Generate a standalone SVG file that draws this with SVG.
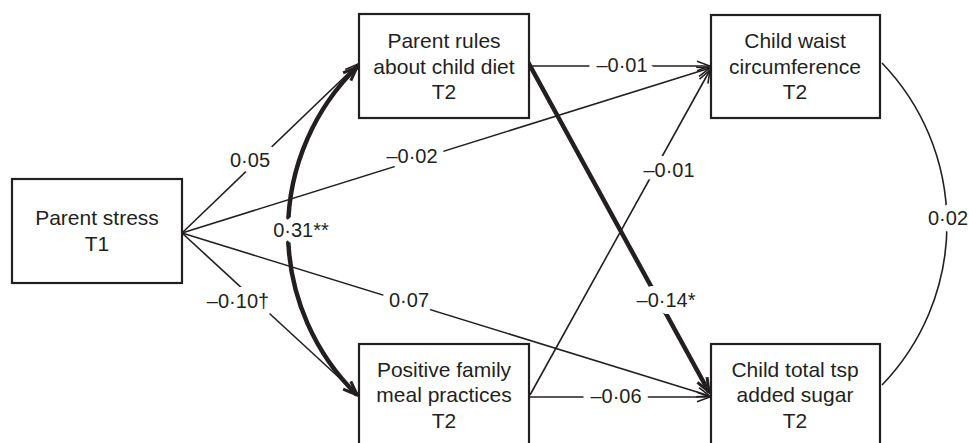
<svg xmlns="http://www.w3.org/2000/svg" width="969" height="443" viewBox="0 0 969 443">
<style>
.box{fill:#fff;stroke:#231f20;stroke-width:2.2}
.nt{font-family:"Liberation Sans",Arial,sans-serif;font-size:21px;fill:#231f20;text-anchor:middle}
.lb{font-family:"Liberation Sans",Arial,sans-serif;font-size:20px;fill:#231f20;text-anchor:middle;paint-order:stroke;stroke:#fff;stroke-width:14px;stroke-linejoin:round}
.thin{fill:none;stroke:#231f20;stroke-width:1.6}
.thick{fill:none;stroke:#231f20;stroke-width:4.5}
</style>
<defs>
<marker id="ah" markerUnits="userSpaceOnUse" viewBox="-16 -8 18 16" markerWidth="18" markerHeight="16" refX="0" refY="0" orient="auto-start-reverse">
<path d="M-13,-4.8 L0,0 L-13,4.8" fill="none" stroke="#231f20" stroke-width="1.6"/>
</marker>
<marker id="ahb" markerUnits="userSpaceOnUse" viewBox="-18 -9 20 18" markerWidth="20" markerHeight="18" refX="0" refY="0" orient="auto-start-reverse">
<path d="M-14,-5.5 L0,0 L-14,5.5" fill="none" stroke="#231f20" stroke-width="3"/>
</marker>
</defs>
<g id="connectors">
<line class="thin" x1="182" y1="233" x2="358" y2="64" marker-end="url(#ah)"/>
<line class="thin" x1="182" y1="233" x2="710" y2="68" marker-end="url(#ah)"/>
<line class="thin" x1="182" y1="233" x2="358" y2="395" marker-end="url(#ah)"/>
<line class="thin" x1="182" y1="233" x2="710" y2="396" marker-end="url(#ah)"/>
<line class="thin" x1="531" y1="66" x2="710" y2="66" marker-end="url(#ah)"/>
<line class="thin" x1="530" y1="395" x2="710" y2="70" marker-end="url(#ah)"/>
<line class="thin" x1="530" y1="397" x2="710" y2="397" marker-end="url(#ah)"/>
<line class="thick" x1="528" y1="62" x2="709" y2="392" marker-end="url(#ahb)"/>
<path class="thick" d="M357,67 A229.5,229.5 0 0 0 357,395" marker-start="url(#ahb)" marker-end="url(#ahb)"/>
<path class="thin" d="M882,63 A232,232 0 0 1 882,385"/>
<text class="lb" x="250" y="167">0·05</text>
<text class="lb" x="412" y="163">–0·02</text>
<text class="lb" x="622" y="72">–0·01</text>
<text class="lb" x="669" y="177">–0·01</text>
<text class="lb" x="301" y="237">0·31**</text>
<text class="lb" x="238" y="308">–0·10†</text>
<text class="lb" x="409" y="307">0·07</text>
<text class="lb" x="666" y="307">–0·14*</text>
<text class="lb" x="616" y="403">–0·06</text>
<text class="lb" x="948" y="225">0·02</text>
</g>
<g id="parent-stress">
<rect class="box" x="12" y="179" width="170" height="104"/>
<text class="nt" x="97" y="225">Parent stress</text>
<text class="nt" x="97" y="251">T1</text>
</g>
<g id="parent-rules">
<rect class="box" x="359" y="14" width="170" height="104"/>
<text class="nt" x="444" y="48">Parent rules</text>
<text class="nt" x="444" y="74">about child diet</text>
<text class="nt" x="444" y="99">T2</text>
</g>
<g id="child-waist">
<rect class="box" x="711" y="15" width="169" height="103"/>
<text class="nt" x="795" y="48">Child waist</text>
<text class="nt" x="795" y="74">circumference</text>
<text class="nt" x="795" y="99">T2</text>
</g>
<g id="positive-family">
<rect class="box" x="359" y="344" width="170" height="106"/>
<text class="nt" x="444" y="377">Positive family</text>
<text class="nt" x="444" y="402">meal practices</text>
<text class="nt" x="444" y="428">T2</text>
</g>
<g id="child-sugar">
<rect class="box" x="711" y="344" width="169" height="106"/>
<text class="nt" x="795" y="377">Child total tsp</text>
<text class="nt" x="795" y="402">added sugar</text>
<text class="nt" x="795" y="428">T2</text>
</g>
</svg>
